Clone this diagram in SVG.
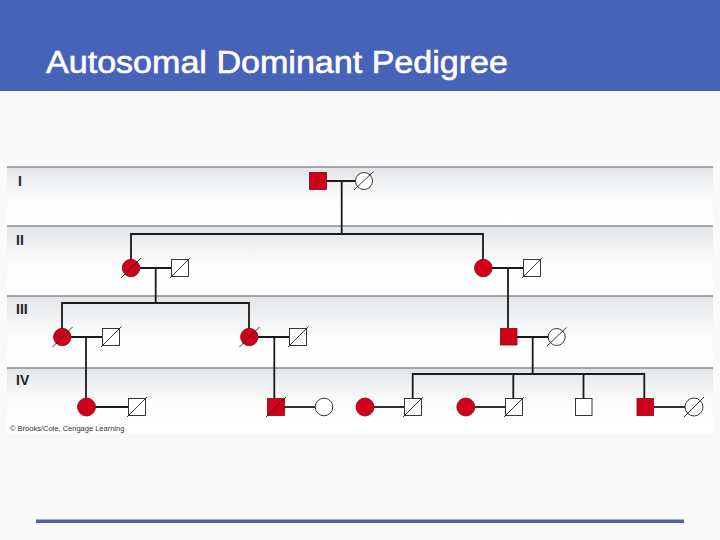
<svg xmlns="http://www.w3.org/2000/svg" width="720" height="540" viewBox="0 0 720 540">
<defs>
<linearGradient id="band" x1="0" y1="0" x2="0" y2="1">
<stop offset="0" stop-color="#e2e5e8"/>
<stop offset="0.55" stop-color="#fdfdfd"/>
<stop offset="1" stop-color="#ffffff"/>
</linearGradient>
<style>
.title{font-family:"Liberation Sans",Arial,sans-serif;font-size:32px;fill:#ffffff;stroke:#ffffff;stroke-width:0.6;}
.gen{font-family:"Liberation Sans",Arial,sans-serif;font-size:14px;font-weight:bold;fill:#222;}
.copy{font-family:"Liberation Sans",Arial,sans-serif;font-size:7.5px;fill:#333;}
.sep{stroke:#8a8d90;stroke-width:1.5;}
.ln{stroke:#1a1a1a;stroke-width:1.8;fill:none;}
.aff{fill:#d0021b;stroke:#8a0010;stroke-width:0.8;}
.un{fill:#ffffff;stroke:#222;stroke-width:0.9;}
.sl{stroke:#222;stroke-width:0.9;}
</style>
</defs>
<rect x="0" y="0" width="720" height="540" fill="#fafafa"/>
<rect x="0" y="0" width="720" height="91" fill="#4763b8"/>
<text class="title" x="46" y="73" textLength="462" lengthAdjust="spacingAndGlyphs">Autosomal Dominant Pedigree</text>
<rect x="36" y="519.5" width="648" height="3.5" fill="#4f62a6"/>

<g id="chart-background">
<rect x="7" y="165" width="706" height="268" fill="#ffffff"/>
<rect x="7" y="167" width="706" height="59" fill="url(#band)"/>
<rect x="7" y="226" width="706" height="70" fill="url(#band)"/>
<rect x="7" y="296" width="706" height="72" fill="url(#band)"/>
<rect x="7" y="368" width="706" height="64" fill="url(#band)"/>
<line class="sep" x1="7" y1="167" x2="713" y2="167"/>
<line class="sep" x1="7" y1="226" x2="713" y2="226"/>
<line class="sep" x1="7" y1="296" x2="713" y2="296"/>
<line class="sep" x1="7" y1="368" x2="713" y2="368"/>
<text class="gen" x="18" y="186">I</text>
<text class="gen" x="16" y="245">II</text>
<text class="gen" x="16" y="314">III</text>
<text class="gen" x="16" y="385">IV</text>
<text class="copy" x="10" y="431">© Brooks/Cole, Cengage Learning</text>
</g>

<g id="connectors">
<path class="ln" d="M326 181 H355 M341.7 181 V234 M131 268 V234 H483 V268"/>
<path class="ln" d="M140 268 H171 M155.7 268 V303 M62 337 V303 H249 V337"/>
<path class="ln" d="M492 268 H523 M508 268 V328"/>
<path class="ln" d="M71 337 H102 M86 337 V407"/>
<path class="ln" d="M258 337 H289 M274.3 337 V398.5"/>
<path class="ln" d="M517 337 H548 M532.7 337 V374 M412.7 398.5 V374 H644.3 V398.5 M513.3 374 V398.5 M583.5 374 V398.5"/>
<path class="ln" d="M95 407 H128"/>
<path class="ln" d="M284 407 H315"/>
<path class="ln" d="M374 407 H404"/>
<path class="ln" d="M475 407 H505.5"/>
<path class="ln" d="M654 407 H685"/>
</g>

<g id="I-1"><rect class="aff" x="309.5" y="172.5" width="17" height="17"/></g>
<g id="I-2"><circle class="un" cx="364" cy="181" r="8.5"/><line class="sl" x1="354" y1="190" x2="373.5" y2="171.5"/></g>

<g id="II-1"><circle class="aff" cx="131" cy="268" r="8.7"/><line class="sl" x1="121" y1="278" x2="141" y2="258"/></g>
<g id="II-2"><rect class="un" x="171.5" y="259.5" width="17" height="17"/><line class="sl" x1="170" y1="278" x2="190.5" y2="257.5"/></g>
<g id="II-3"><circle class="aff" cx="483.3" cy="268" r="8.8"/></g>
<g id="II-4"><rect class="un" x="523.5" y="259.5" width="17" height="17"/><line class="sl" x1="522" y1="278" x2="542.5" y2="257.5"/></g>

<g id="III-1"><circle class="aff" cx="62.3" cy="337" r="8.7"/><line class="sl" x1="52.5" y1="347" x2="72.5" y2="327"/></g>
<g id="III-2"><rect class="un" x="102.5" y="328.5" width="17" height="17"/><line class="sl" x1="101" y1="347" x2="121.5" y2="326.5"/></g>
<g id="III-3"><circle class="aff" cx="249.3" cy="337" r="8.7"/><line class="sl" x1="239.5" y1="347" x2="259.5" y2="327"/></g>
<g id="III-4"><rect class="un" x="289.5" y="328.5" width="17" height="17"/><line class="sl" x1="288" y1="347" x2="308.5" y2="326.5"/></g>
<g id="III-5"><rect class="aff" x="500.5" y="328.5" width="16.5" height="16.5"/></g>
<g id="III-6"><circle class="un" cx="556.7" cy="337" r="8.5"/><line class="sl" x1="547" y1="346" x2="566.5" y2="327.5"/></g>

<g id="IV-1"><circle class="aff" cx="86.5" cy="407" r="9"/></g>
<g id="IV-2"><rect class="un" x="128.5" y="398.5" width="17" height="17"/><line class="sl" x1="127" y1="417" x2="147" y2="397"/></g>
<g id="IV-3"><rect class="aff" x="267.5" y="398.5" width="17" height="17"/><line class="sl" x1="266" y1="417" x2="286" y2="397"/></g>
<g id="IV-4"><circle class="un" cx="324" cy="407" r="8.8"/></g>
<g id="IV-5"><circle class="aff" cx="365" cy="407" r="9"/></g>
<g id="IV-6"><rect class="un" x="404.5" y="398.5" width="17" height="17"/><line class="sl" x1="403" y1="417" x2="423" y2="397"/></g>
<g id="IV-7"><circle class="aff" cx="465.8" cy="407" r="9"/></g>
<g id="IV-8"><rect class="un" x="505.5" y="398.5" width="17" height="17"/><line class="sl" x1="504" y1="417" x2="524" y2="397"/></g>
<g id="IV-9"><rect class="un" x="575.5" y="398.5" width="16.5" height="17"/></g>
<g id="IV-10"><rect class="aff" x="637" y="398.5" width="16.5" height="17"/></g>
<g id="IV-11"><circle class="un" cx="694" cy="407" r="9"/><line class="sl" x1="684" y1="417" x2="704" y2="397"/></g>
</svg>
